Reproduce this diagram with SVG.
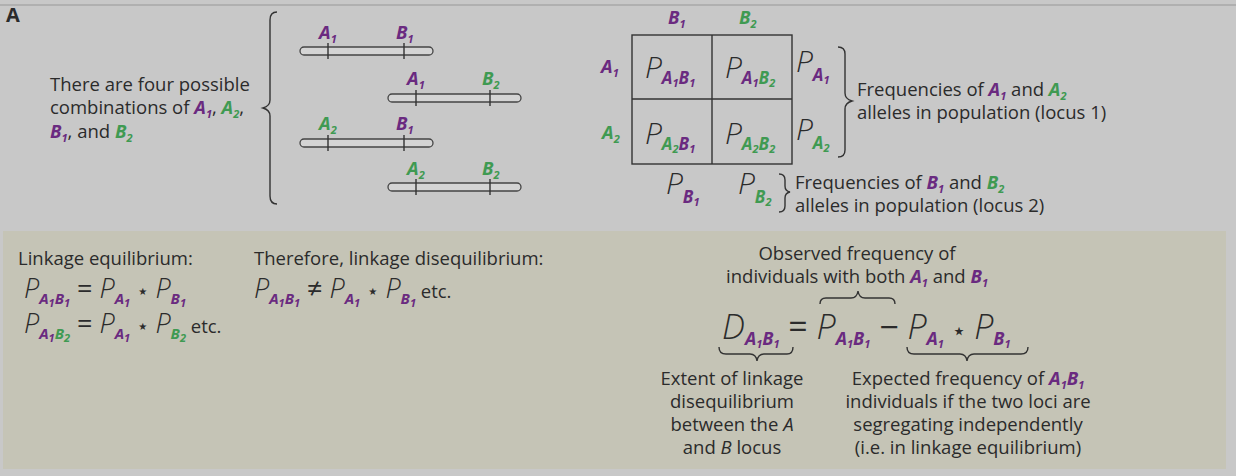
<svg xmlns="http://www.w3.org/2000/svg" width="1236" height="476" viewBox="0 0 1236 476">
<style>
text{font-family:"Open Sans","Liberation Sans",sans-serif;fill:#2b2b2b;font-size:18.5px}
.pu{fill:#6a2a80;font-weight:bold;font-style:italic}
.gr{fill:#3f9a52;font-weight:bold;font-style:italic}
.n{font-weight:normal;font-style:normal;fill:#2b2b2b}
.st{font-weight:normal;font-style:normal;fill:#2b2b2b;font-size:20px;font-family:"DejaVu Sans",sans-serif}
.it{font-style:italic}
.P{font-style:italic;font-size:30px;font-weight:300}
.sm{font-size:11px}
.line{fill:none;stroke:#333;stroke-width:1.4}
.chr{fill:#d4d4d4;stroke:#444;stroke-width:1.3}
</style>
<rect width="1236" height="476" fill="#c8c8c8"/>
<line x1="0" y1="5" x2="1236" y2="5" stroke="#b0b0b0" stroke-width="2"/>
<rect x="3" y="231" width="1223" height="238" fill="#c5c4b6"/>
<text x="6" y="22" style="font-weight:bold;font-size:20px">A</text>

<g id="left-text">
<text x="50" y="91">There are four possible</text>
<text x="50" y="114">combinations of <tspan class="pu">A</tspan><tspan class="pu sm" dy="4">1</tspan><tspan dy="-4">, </tspan><tspan class="gr">A</tspan><tspan class="gr sm" dy="4">2</tspan><tspan dy="-4">,</tspan></text>
<text x="50" y="138"><tspan class="pu">B</tspan><tspan class="pu sm" dy="4">1</tspan><tspan dy="-4">, and </tspan><tspan class="gr">B</tspan><tspan class="gr sm" dy="4">2</tspan></text>
<path class="line" d="M277,12 Q270,12 270,20 L270,100 Q270,106 263,108 Q270,110 270,116 L270,196 Q270,204 277,204"/>
</g>

<g id="chromosomes">
<rect class="chr" x="300" y="47" width="133" height="8" rx="4"/>
<path class="line" d="M328,43v16M404,43v16"/>
<text x="319" y="39" class="pu">A<tspan class="sm" dy="4">1</tspan></text>
<text x="396" y="39" class="pu">B<tspan class="sm" dy="4">1</tspan></text>
<rect class="chr" x="388" y="94" width="133" height="8" rx="4"/>
<path class="line" d="M416,90v16M490,90v16"/>
<text x="407" y="85" class="pu">A<tspan class="sm" dy="4">1</tspan></text>
<text x="482" y="85" class="gr">B<tspan class="sm" dy="4">2</tspan></text>
<rect class="chr" x="300" y="139" width="133" height="8" rx="4"/>
<path class="line" d="M328,135v16M404,135v16"/>
<text x="319" y="130" class="gr">A<tspan class="sm" dy="4">2</tspan></text>
<text x="396" y="130" class="pu">B<tspan class="sm" dy="4">1</tspan></text>
<rect class="chr" x="388" y="183" width="133" height="8" rx="4"/>
<path class="line" d="M416,179v16M490,179v16"/>
<text x="407" y="175" class="gr">A<tspan class="sm" dy="4">2</tspan></text>
<text x="482" y="175" class="gr">B<tspan class="sm" dy="4">2</tspan></text>
</g>

<g id="grid">
<rect x="632" y="35" width="160" height="129" fill="none" stroke="#333" stroke-width="1.4"/>
<path class="line" d="M712,35v129M632,99h160"/>
<text x="668" y="24" class="pu">B<tspan class="sm" dy="4">1</tspan></text>
<text x="739" y="24" class="gr">B<tspan class="sm" dy="4">2</tspan></text>
<text x="601" y="73" class="pu">A<tspan class="sm" dy="4">1</tspan></text>
<text x="602" y="139" class="gr">A<tspan class="sm" dy="4">2</tspan></text>
<text x="645" y="78" class="P">P<tspan class="pu" style="font-size:17px" dy="6">A</tspan><tspan class="pu sm" dy="3">1</tspan><tspan class="pu" style="font-size:17px" dy="-3">B</tspan><tspan class="pu sm" dy="3">1</tspan></text>
<text x="725" y="78" class="P">P<tspan class="pu" style="font-size:17px" dy="6">A</tspan><tspan class="pu sm" dy="3">1</tspan><tspan class="gr" style="font-size:17px" dy="-3">B</tspan><tspan class="gr sm" dy="3">2</tspan></text>
<text x="645" y="144" class="P">P<tspan class="gr" style="font-size:17px" dy="6">A</tspan><tspan class="gr sm" dy="3">2</tspan><tspan class="pu" style="font-size:17px" dy="-3">B</tspan><tspan class="pu sm" dy="3">1</tspan></text>
<text x="725" y="144" class="P">P<tspan class="gr" style="font-size:17px" dy="6">A</tspan><tspan class="gr sm" dy="3">2</tspan><tspan class="gr" style="font-size:17px" dy="-3">B</tspan><tspan class="gr sm" dy="3">2</tspan></text>
<text x="796" y="72" class="P">P<tspan class="pu" style="font-size:17px" dy="9">A</tspan><tspan class="pu sm" dy="3">1</tspan></text>
<text x="796" y="140" class="P">P<tspan class="gr" style="font-size:17px" dy="9">A</tspan><tspan class="gr sm" dy="3">2</tspan></text>
<text x="666" y="194" class="P">P<tspan class="pu" style="font-size:17px" dy="9">B</tspan><tspan class="pu sm" dy="3">1</tspan></text>
<text x="738" y="194" class="P">P<tspan class="gr" style="font-size:17px" dy="9">B</tspan><tspan class="gr sm" dy="3">2</tspan></text>
<path class="line" d="M838,47 Q845,47 845,54 L845,93 Q845,99 852,101 Q845,103 845,109 L845,150 Q845,157 838,157"/>
<text x="857" y="96">Frequencies of <tspan class="pu">A</tspan><tspan class="pu sm" dy="4">1</tspan><tspan dy="-4"> and </tspan><tspan class="gr">A</tspan><tspan class="gr sm" dy="4">2</tspan></text>
<text x="857" y="119">alleles in population (locus 1)</text>
<path class="line" d="M779,174 Q785,174 785,180 L785,186 Q785,191 790,192 Q785,193 785,198 L785,206 Q785,212 779,212"/>
<text x="795" y="189">Frequencies of <tspan class="pu">B</tspan><tspan class="pu sm" dy="4">1</tspan><tspan dy="-4"> and </tspan><tspan class="gr">B</tspan><tspan class="gr sm" dy="4">2</tspan></text>
<text x="795" y="212">alleles in population (locus 2)</text>
</g>

<g id="equilibrium">
<text x="18" y="265">Linkage equilibrium:</text>
<text x="24" y="298" class="P" style="font-size:27px">P<tspan class="pu" style="font-size:15px" dy="6">A</tspan><tspan class="pu sm" dy="3">1</tspan><tspan class="pu" style="font-size:15px" dy="-3">B</tspan><tspan class="pu sm" dy="3">1</tspan><tspan class="n" dy="-9"> = </tspan><tspan>P</tspan><tspan class="pu" style="font-size:15px" dy="6">A</tspan><tspan class="pu sm" dy="3">1</tspan><tspan class="st" dy="-9"> ⋆ </tspan><tspan>P</tspan><tspan class="pu" style="font-size:15px" dy="6">B</tspan><tspan class="pu sm" dy="3">1</tspan></text>
<text x="24" y="333" class="P" style="font-size:27px">P<tspan class="pu" style="font-size:15px" dy="6">A</tspan><tspan class="pu sm" dy="3">1</tspan><tspan class="gr" style="font-size:15px" dy="-3">B</tspan><tspan class="gr sm" dy="3">2</tspan><tspan class="n" dy="-9"> = </tspan><tspan>P</tspan><tspan class="pu" style="font-size:15px" dy="6">A</tspan><tspan class="pu sm" dy="3">1</tspan><tspan class="st" dy="-9"> ⋆ </tspan><tspan>P</tspan><tspan class="gr" style="font-size:15px" dy="6">B</tspan><tspan class="gr sm" dy="3">2</tspan><tspan class="n" style="font-size:18.5px" dy="-9"> etc.</tspan></text>
<text x="254" y="265">Therefore, linkage disequilibrium:</text>
<text x="254" y="298" class="P" style="font-size:27px">P<tspan class="pu" style="font-size:15px" dy="6">A</tspan><tspan class="pu sm" dy="3">1</tspan><tspan class="pu" style="font-size:15px" dy="-3">B</tspan><tspan class="pu sm" dy="3">1</tspan><tspan class="n" dy="-9"> ≠ </tspan><tspan>P</tspan><tspan class="pu" style="font-size:15px" dy="6">A</tspan><tspan class="pu sm" dy="3">1</tspan><tspan class="st" dy="-9"> ⋆ </tspan><tspan>P</tspan><tspan class="pu" style="font-size:15px" dy="6">B</tspan><tspan class="pu sm" dy="3">1</tspan><tspan class="n" style="font-size:18.5px" dy="-9">  etc.</tspan></text>
</g>

<g id="disequilibrium">
<text x="857" y="260" text-anchor="middle">Observed frequency of</text>
<text x="857" y="283" text-anchor="middle">individuals with both <tspan class="pu">A</tspan><tspan class="pu sm" dy="4">1</tspan><tspan dy="-4"> and </tspan><tspan class="pu">B</tspan><tspan class="pu sm" dy="4">1</tspan></text>
<path class="line" d="M820,304 Q820,298 826,298 L851,298 Q857,298 858,291 Q859,298 865,298 L889,298 Q895,298 895,304"/>
<text x="722" y="339" class="P" style="font-size:34px">D<tspan class="pu" style="font-size:18px" dy="6">A</tspan><tspan class="pu sm" dy="3">1</tspan><tspan class="pu" style="font-size:18px" dy="-3">B</tspan><tspan class="pu sm" dy="3">1</tspan><tspan class="n" dy="-9"> = </tspan><tspan>P</tspan><tspan class="pu" style="font-size:18px" dy="6">A</tspan><tspan class="pu sm" dy="3">1</tspan><tspan class="pu" style="font-size:18px" dy="-3">B</tspan><tspan class="pu sm" dy="3">1</tspan><tspan class="n" dy="-9"> − </tspan><tspan>P</tspan><tspan class="pu" style="font-size:18px" dy="6">A</tspan><tspan class="pu sm" dy="3">1</tspan><tspan class="st" style="font-size:24px" dy="-9"> ⋆ </tspan><tspan>P</tspan><tspan class="pu" style="font-size:18px" dy="6">B</tspan><tspan class="pu sm" dy="3">1</tspan></text>
<path class="line" d="M719,347 Q719,354 726,354 L750,354 Q756,354 757,361 Q758,354 764,354 L787,354 Q793,354 793,347"/>
<path class="line" d="M907,347 Q907,354 914,354 L960,354 Q966,354 967,361 Q968,354 974,354 L1021,354 Q1028,354 1028,347"/>
<text x="732" y="385" text-anchor="middle">Extent of linkage</text>
<text x="732" y="408" text-anchor="middle">disequilibrium</text>
<text x="732" y="431" text-anchor="middle">between the <tspan class="it">A</tspan></text>
<text x="732" y="454" text-anchor="middle">and <tspan class="it">B</tspan> locus</text>
<text x="968" y="385" text-anchor="middle">Expected frequency of <tspan class="pu">A</tspan><tspan class="pu sm" dy="4">1</tspan><tspan class="pu" dy="-4">B</tspan><tspan class="pu sm" dy="4">1</tspan></text>
<text x="968" y="408" text-anchor="middle">individuals if the two loci are</text>
<text x="968" y="431" text-anchor="middle">segregating independently</text>
<text x="968" y="454" text-anchor="middle">(i.e. in linkage equilibrium)</text>
</g>
</svg>
